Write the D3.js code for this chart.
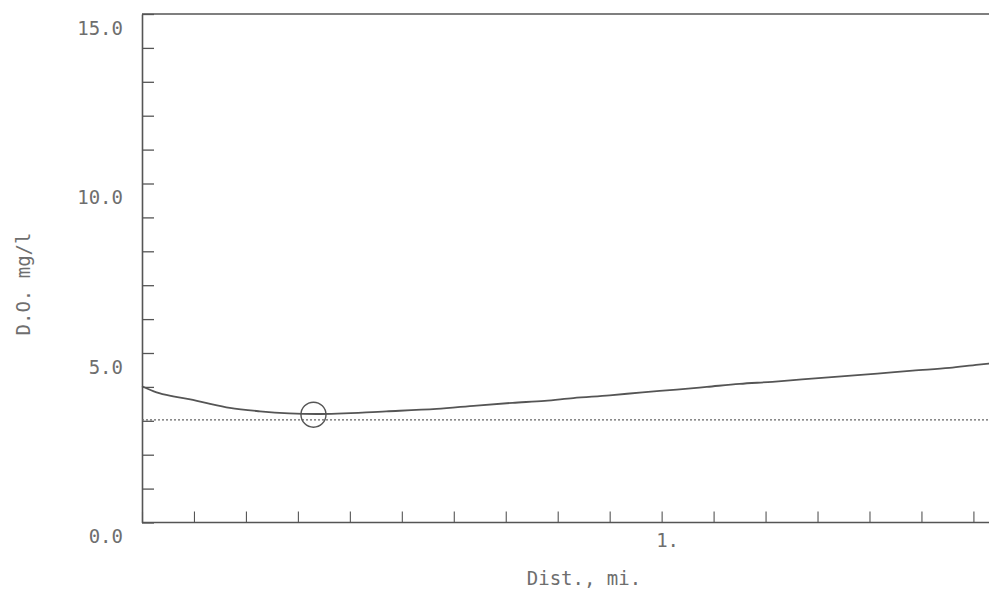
<!DOCTYPE html>
<html>
<head>
<meta charset="utf-8">
<script src="https://cdn.jsdelivr.net/npm/d3@7"></script>
<style>
  html, body { margin: 0; padding: 0; background: #fff; }
  svg { display: block; }
  text { font-family: "DejaVu Sans Mono", "Liberation Mono", monospace; fill: #6e6e6e; }
</style>
</head>
<body>
<svg id="chart" width="989" height="593"></svg>
<script>
// Distance along stream, miles
const distance = [0.0, 0.028, 0.06, 0.098, 0.131, 0.169, 0.227, 0.336, 0.47, 0.567, 0.644, 0.713, 0.775, 0.83, 0.9, 0.963, 1.029, 1.087, 1.15, 1.213, 1.27, 1.346, 1.415, 1.483, 1.554, 1.61, 1.63];
// Dissolved oxygen, mg/l
const doValues = [4.02, 3.84, 3.72, 3.62, 3.50, 3.38, 3.28, 3.20, 3.28, 3.35, 3.45, 3.53, 3.59, 3.67, 3.75, 3.84, 3.92, 4.00, 4.09, 4.15, 4.22, 4.31, 4.39, 4.48, 4.56, 4.66, 4.69];
// Standard (dotted) line
const standardDO = [3.03];
// Critical point (circle)
const criticalPoint = [{ dist: 0.33, value: 3.18 }];
// Axis ticks
const yTicks = [0,1,2,3,4,5,6,7,8,9,10,11,12,13,14,15];
const yLabelTicks = [0, 5, 10, 15];
const xTicks = [0,0.1,0.2,0.3,0.4,0.5,0.6,0.7,0.8,0.9,1.0,1.1,1.2,1.3,1.4,1.5,1.6];
const xLabelTicks = [1];
const xDomain = [0, 1.63];
const yDomain = [0, 15];

const svg = d3.select("#chart");
const stroke = "#555";
const x = d3.scaleLinear().domain(xDomain).range([142, 989]);
const y = d3.scaleLinear().domain(yDomain).range([522.5, 14]);

// Top border
svg.append("line")
  .attr("x1", x(0)).attr("x2", 989)
  .attr("y1", y(15)).attr("y2", y(15))
  .attr("stroke", stroke).attr("stroke-width", 1.6);

// Y axis
const yAxis = d3.axisLeft(y)
  .tickValues(yTicks)
  .tickSizeInner(-12)
  .tickSizeOuter(0)
  .tickPadding(19)
  .tickFormat(d => yLabelTicks.includes(d) ? d3.format(".1f")(d) : "");
const gy = svg.append("g").attr("transform", `translate(${x(0)},0)`).call(yAxis);
gy.select(".domain").attr("stroke", stroke).attr("stroke-width", 1.6);
gy.selectAll(".tick line").attr("stroke", stroke).attr("stroke-width", 1.3);
gy.selectAll(".tick text").attr("font-size", 19).attr("dy", "0.32em")
  .attr("transform", "translate(0,14)")
  .style("font-family", '"DejaVu Sans Mono", monospace').style("fill", "#6e6e6e");

// X axis
const xAxis = d3.axisBottom(x)
  .tickValues(xTicks)
  .tickSizeInner(-11)
  .tickSizeOuter(0)
  .tickPadding(11)
  .tickFormat(d => xLabelTicks.includes(d) ? d3.format("d")(d) + "." : "");
const gx = svg.append("g").attr("transform", `translate(0,${y(0)})`).call(xAxis);
gx.select(".domain").attr("stroke", stroke).attr("stroke-width", 1.6);
gx.selectAll(".tick line").attr("stroke", stroke).attr("stroke-width", 1.1);
gx.selectAll(".tick text").attr("font-size", 19).attr("text-anchor", "start").attr("dx", -6)
  .style("font-family", '"DejaVu Sans Mono", monospace').style("fill", "#6e6e6e");
// extend x domain line to right edge
gx.select(".domain").attr("d", `M${x(0)},0H989`);

// Standard dotted line
svg.selectAll(".std").data(standardDO).enter().append("line")
  .attr("class", "std")
  .attr("x1", x(0)).attr("x2", 989)
  .attr("y1", d => y(d)).attr("y2", d => y(d))
  .attr("stroke", "#666").attr("stroke-width", 1.2)
  .attr("stroke-dasharray", "2,2");

// DO curve
const line = d3.line()
  .x((d, i) => x(distance[i]))
  .y(d => y(d))
  .curve(d3.curveMonotoneX);
svg.append("path")
  .datum(doValues)
  .attr("d", line)
  .attr("fill", "none")
  .attr("stroke", stroke)
  .attr("stroke-width", 1.8);

// Critical point circle
svg.selectAll(".crit").data(criticalPoint).enter().append("circle")
  .attr("class", "crit")
  .attr("cx", d => x(d.dist)).attr("cy", d => y(d.value))
  .attr("r", 12.5)
  .attr("fill", "none").attr("stroke", stroke).attr("stroke-width", 1.4);

// Axis titles
svg.append("text")
  .attr("x", 584).attr("y", 578)
  .attr("text-anchor", "middle").attr("dominant-baseline", "central")
  .attr("font-size", 19)
  .text("Dist., mi.");
svg.append("text")
  .attr("transform", "translate(23,284) rotate(-90)")
  .attr("text-anchor", "middle").attr("dominant-baseline", "central")
  .attr("font-size", 19)
  .text("D.O. mg/l");
</script>
</body>
</html>
